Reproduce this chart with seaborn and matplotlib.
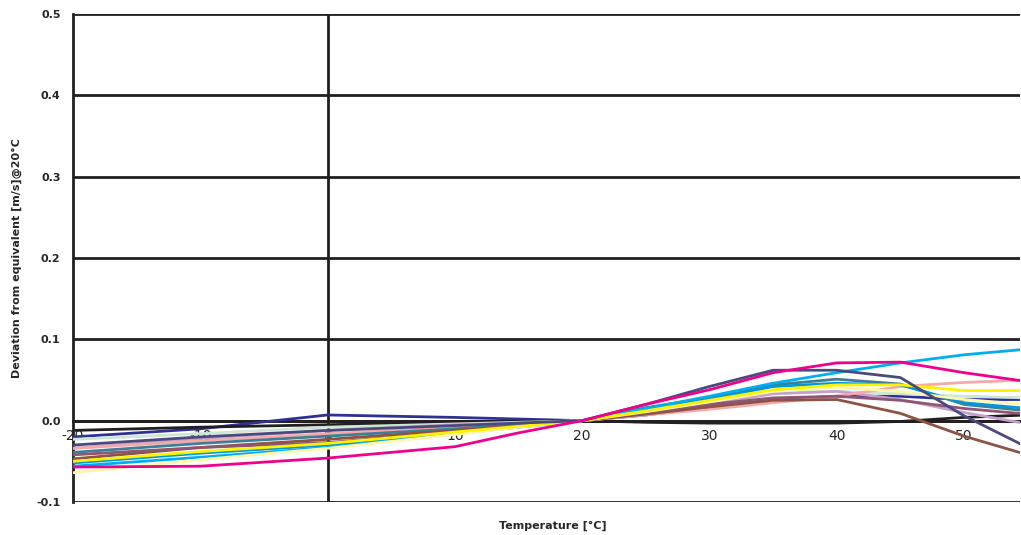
import pandas as pd
import numpy as np
import matplotlib
matplotlib.use('Agg')
import matplotlib.pyplot as plt
import seaborn as sns

# temperatures
temps = [-20, -10, 0, 10, 15, 20, 25, 30, 35, 40, 45, 50, 55]

navy = [-0.020, -0.010, 0.007, 0.004, 0.002, 0.0, 0.007, 0.017, 0.026, 0.030, 0.030, 0.026, 0.026]
black = [-0.012, -0.008, -0.005, -0.002, -0.001, 0.0, -0.002, -0.003, -0.003, -0.003, -0.001, 0.004, 0.007]
lightgreen = [-0.023, -0.016, -0.008, -0.004, -0.002, 0.0, 0.008, 0.020, 0.035, 0.036, 0.033, 0.030, 0.028]
lavender = [-0.034, -0.022, -0.012, -0.005, -0.003, 0.0, 0.007, 0.020, 0.033, 0.036, 0.026, 0.010, -0.004]
salmon = [-0.034, -0.025, -0.016, -0.008, -0.004, 0.0, 0.007, 0.014, 0.022, 0.030, 0.042, 0.047, 0.050]
teal = [-0.039, -0.028, -0.019, -0.010, -0.005, 0.0, 0.016, 0.028, 0.044, 0.051, 0.045, 0.020, 0.012]
brown = [-0.047, -0.033, -0.023, -0.012, -0.006, 0.0, 0.008, 0.017, 0.025, 0.026, 0.009, -0.019, -0.042]
mauve = [-0.042, -0.033, -0.027, -0.014, -0.007, 0.0, 0.010, 0.020, 0.028, 0.030, 0.025, 0.015, 0.008]
blue = [-0.052, -0.040, -0.030, -0.015, -0.007, 0.0, 0.014, 0.026, 0.042, 0.046, 0.044, 0.022, 0.015]
cyan = [-0.056, -0.045, -0.033, -0.016, -0.008, 0.0, 0.015, 0.030, 0.046, 0.059, 0.071, 0.081, 0.088]
paleyellow = [-0.064, -0.048, -0.034, -0.017, -0.008, 0.0, 0.011, 0.023, 0.036, 0.041, 0.036, 0.026, 0.020]
yellow = [-0.050, -0.038, -0.028, -0.014, -0.007, 0.0, 0.012, 0.025, 0.038, 0.044, 0.044, 0.037, 0.037]
slate = [-0.030, -0.020, -0.012, -0.006, -0.003, 0.0, 0.020, 0.042, 0.062, 0.062, 0.053, 0.006, -0.033]
magenta = [-0.057, -0.056, -0.046, -0.032, -0.015, 0.0, 0.020, 0.038, 0.059, 0.071, 0.072, 0.059, 0.048]

series = {
    'navy': (navy, '#2E3192'),
    'black': (black, '#231F20'),
    'lightgreen': (lightgreen, '#CDE6D5'),
    'lavender': (lavender, '#C6A0CC'),
    'salmon': (salmon, '#F7A8A8'),
    'teal': (teal, '#3D7F97'),
    'brown': (brown, '#8C5442'),
    'mauve': (mauve, '#8E5673'),
    'blue': (blue, '#0098DA'),
    'cyan': (cyan, '#00AEEF'),
    'paleyellow': (paleyellow, '#FFF8A8'),
    'yellow': (yellow, '#FFF200'),
    'slate': (slate, '#4A4A7C'),
    'magenta': (magenta, '#EC008C'),
}

rows = []
for name, (vals, col) in series.items():
    for t, v in zip(temps, vals):
        rows.append({'temp': t, 'dev': v, 'sensor': name})
df = pd.DataFrame(rows)
palette = {name: col for name, (vals, col) in series.items()}

sns.set_style('white')
plt.rcParams['font.family'] = ['DejaVu Sans']

fig = plt.figure(figsize=(10.21, 5.35), dpi=100)
ax = fig.add_axes([73 / 1021, 1 - 502 / 535, (1020 - 73) / 1021, (502 - 14) / 535])

# grid lines
for yv in np.arange(-0.1, 0.51, 0.1):
    ax.axhline(yv, color='#231F20', lw=2, zorder=1)
ax.axvline(0, color='#231F20', lw=2, zorder=1)

sns.lineplot(data=df, x='temp', y='dev', hue='sensor', palette=palette,
             lw=2, legend=False, ax=ax, zorder=3)

ax.set_xlim(-20, 54.4)
ax.set_ylim(-0.1, 0.5)
ax.set_yticks(np.arange(-0.1, 0.51, 0.1))
ax.set_yticklabels(['-0.1', '0.0', '0.1', '0.2', '0.3', '0.4', '0.5'],
                   fontsize=8, fontweight='bold')
ax.set_xticks([-20, -10, 0, 10, 20, 30, 40, 50])
ax.set_xticklabels(['-20', '-10', '0', '10', '20', '30', '40', '50'],
                   fontsize=8, fontweight='bold')

for s in ['top', 'right']:
    ax.spines[s].set_visible(False)
ax.spines['bottom'].set_position(('data', 0))
ax.spines['bottom'].set_linewidth(2)
ax.spines['bottom'].set_color('#231F20')
ax.spines['bottom'].set_zorder(2)
ax.spines['left'].set_linewidth(2)
ax.spines['left'].set_color('#231F20')
ax.tick_params(axis='y', length=5, width=2, direction='out', color='#231F20', pad=4)
ax.tick_params(axis='x', length=3, width=2, direction='out', color='#231F20', pad=3)

ax.set_xlabel('')
ax.set_ylabel('Deviation from equivalent [m/s]@20°C', fontsize=8, fontweight='bold', labelpad=10)
fig.text(553 / 1021, 1 - 526 / 535, 'Temperature [°C]', ha='center', va='center',
         fontsize=8, fontweight='bold')

fig.savefig('out.png', dpi=100)
